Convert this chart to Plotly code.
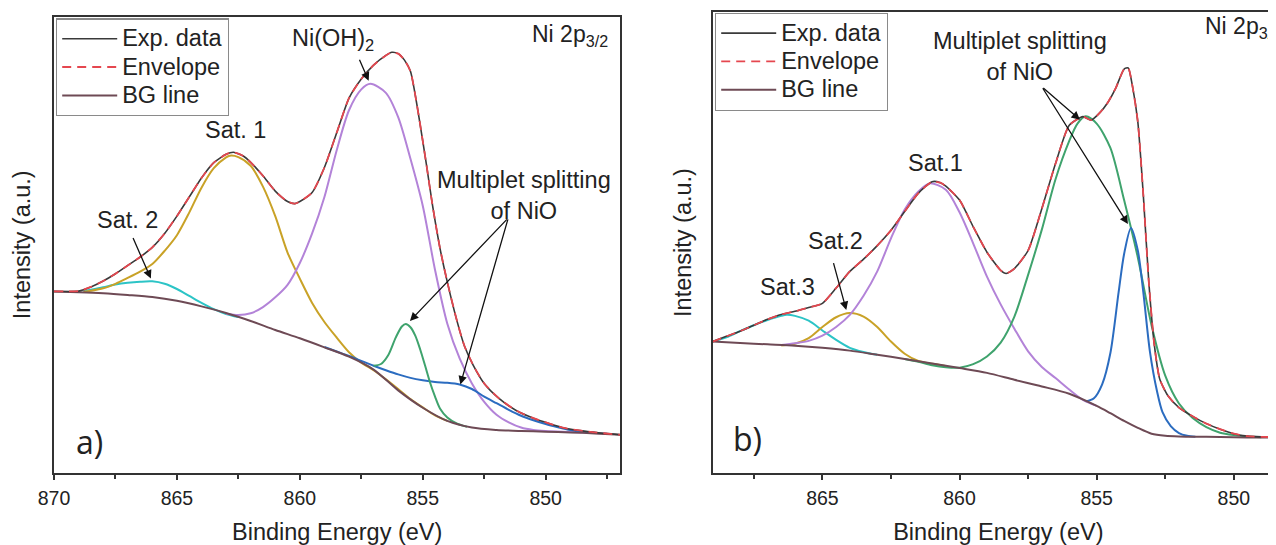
import plotly.graph_objects as go

# ---------------- Panel a) data (Binding energy eV, intensity a.u.) ----------------
E_a_exp = [870, 869.5, 869, 868.5, 868, 867.5, 867, 866.5, 866, 865.5, 865, 864.5, 864, 863.5,
           863, 862.7, 862.3, 862, 861.5, 861, 860.5, 860.2, 860, 859.5, 859, 858.5, 858, 857.5,
           857, 856.5, 856.26, 856, 855.75, 855.5, 855.2, 854.85, 854.6, 854.3, 854, 853.6, 853.3,
           852.95, 852.5, 851.9, 851.2, 850.5, 849.2, 848, 846.96]
I_a_exp = [52.3, 52.3, 52.4, 53.6, 55.3, 57.4, 59.8, 62.2, 65.0, 69.0, 74.0, 79.5, 85.0, 89.4,
           91.8, 92.4, 91.3, 89.5, 85.6, 81.2, 78.2, 77.6, 78.2, 80.8, 88.0, 98.0, 108.0, 113.5,
           117.5, 120.3, 121.2, 120.8, 119.0, 115.7, 104.5, 88.8, 77.0, 64.8, 55.0, 43.6, 36.5,
           31.1, 25.8, 21.5, 18.0, 15.8, 12.9, 11.7, 11.0]
I_a_env = I_a_exp  # fitted envelope coincides with the data

E_a_bg = [870, 869, 868, 867, 866, 865, 864, 863, 862, 861, 860, 859, 858, 857, 856, 855, 854,
          853, 852, 851, 850, 849, 848, 846.96]
I_a_bg = [52.3, 52.1, 51.8, 51.3, 50.7, 49.6, 48.0, 46.1, 43.8, 41.2, 38.8, 36.2, 33.5, 29.8,
          23.8, 18.8, 15.0, 13.1, 12.4, 12.1, 11.9, 11.7, 11.4, 11.0]

E_a_sat2 = [868.8, 868.5, 868, 867.5, 867, 866.5, 866, 865.5, 865, 864.5, 864, 863.5, 863, 862.5]
I_a_sat2 = [52.4, 52.8, 53.5, 54.3, 54.8, 55.1, 55.2, 54.5, 53.0, 51.0, 49.0, 47.2, 45.8, 44.9]

E_a_sat1 = [868.8, 868.5, 868, 867.5, 867, 866.5, 866, 865.5, 865, 864.5, 864, 863.5, 863, 862.85,
            862.5, 862, 861.5, 861, 860.5, 860, 859.5, 859, 858.5, 858, 857.5, 857, 856.5, 856,
            855.5, 855, 854.5, 854]
I_a_sat1 = [52.2, 52.5, 53.2, 54.5, 56.2, 58.0, 60.2, 64.0, 68.5, 75.0, 82.2, 87.8, 90.9, 91.4,
            91.0, 88.5, 82.5, 74.0, 63.5, 56.0, 49.0, 43.5, 39.0, 34.8, 31.8, 29.6, 27.0, 24.2,
            21.3, 18.9, 16.6, 15.0]

E_a_nioh = [863, 862.5, 862, 861.5, 861, 860.5, 860, 859.5, 859, 858.5, 858, 857.5, 857.13, 856.5,
            856, 855.5, 855, 854.5, 854, 853.5, 853, 852.5, 852, 851.5, 851, 850.5, 850, 849, 848,
            847.5]
I_a_nioh = [45.9, 45.5, 46.0, 47.8, 50.6, 54.2, 60.5, 69.0, 79.5, 93.0, 104.5, 110.5, 112.1, 109.5,
            102.5, 90.5, 77.0, 58.5, 43.0, 33.0, 25.8, 20.5, 16.8, 14.6, 13.1, 12.4, 12.1, 11.8,
            11.5, 11.3]

E_a_nio1 = [857.0, 856.7, 856.4, 856.1, 855.85, 855.69, 855.5, 855.3, 855.1, 854.9, 854.7, 854.5,
            854.3, 854.0, 853.6, 853.2]
I_a_nio1 = [30.9, 31.4, 34.0, 39.0, 42.2, 42.9, 42.0, 39.5, 35.5, 30.8, 26.0, 22.0, 18.6, 16.0,
            14.2, 13.3]

E_a_nio2 = [859, 858.5, 858, 857.5, 857, 856.5, 856, 855.5, 855, 854.5, 854, 853.5, 853, 852.5,
            852, 851.5, 851, 850.5, 850, 849.5, 849, 848.5, 848]
I_a_nio2 = [36.3, 35.0, 33.7, 32.3, 30.9, 29.6, 28.4, 27.4, 26.7, 26.2, 26.0, 25.5, 24.2, 22.0,
            20.1, 18.2, 16.5, 15.2, 14.1, 13.2, 12.4, 11.9, 11.6]

# ---------------- Panel b) data ----------------
E_b_exp = [869, 868.5, 868, 867.5, 867, 866.5, 866, 865.5, 865, 864.5, 864, 863.5, 863, 862.5, 862,
           861.5, 861, 860.7, 860.5, 860, 859.5, 859, 858.5, 858.3, 858, 857.5, 857, 856.5, 856,
           855.5, 855.2, 854.9, 854.6, 854.3, 854, 853.85, 853.7, 853.5, 853.3, 853.1, 852.9,
           852.7, 852.4, 852, 851.5, 851, 850.5, 850, 849.5, 849, 848.17]
I_b_exp = [37.8, 39.3, 40.8, 42.5, 44.2, 45.6, 46.5, 47.6, 48.8, 53.2, 58.0, 61.5, 65.4, 69.8, 75.2,
           80.5, 83.8, 83.5, 82.5, 78.5, 70.8, 63.5, 58.3, 57.4, 58.8, 64.0, 76.0, 89.0, 100.0,
           102.5, 101.5, 103.5, 106.5, 110.8, 116.2, 116.5, 111.5, 101.0, 80.0, 55.0, 37.0,
           27.0, 22.2, 18.8, 16.3, 14.2, 12.6, 11.3, 10.6, 10.4, 10.3]
I_b_env = I_b_exp

E_b_bg = [869, 868, 867, 866, 865, 864, 863, 862, 861, 860, 859, 858, 857, 856, 855, 854.5, 854,
          853.5, 853, 852.5, 852, 851, 850, 849, 848.17]
I_b_bg = [37.8, 37.4, 37.0, 36.6, 36.0, 35.2, 34.0, 32.8, 31.5, 30.2, 28.8, 26.8, 24.9, 22.8, 19.3,
          17.2, 15.0, 13.0, 11.3, 10.7, 10.5, 10.4, 10.3, 10.2, 10.2]

E_b_sat3 = [869, 868.5, 868, 867.5, 867, 866.5, 866.3, 866, 865.5, 865, 864.5, 864, 863.5, 863]
I_b_sat3 = [37.8, 39.0, 40.8, 42.5, 44.0, 45.2, 45.5, 45.2, 43.8, 41.0, 38.3, 36.0, 34.8, 34.0]

E_b_sat2 = [866.5, 866, 865.5, 865, 864.5, 864, 863.5, 863, 862.5, 862, 861.5, 861, 860.5]
I_b_sat2 = [36.7, 37.2, 38.8, 42.0, 44.8, 46.0, 45.0, 42.0, 37.8, 34.3, 32.2, 31.4, 30.8]

E_b_sat1 = [866.5, 866, 865.5, 865, 864.5, 864, 863.5, 863, 862.5, 862, 861.5, 861.09, 860.5, 860,
            859.5, 859, 858.5, 858, 857.5, 857, 856.5, 856, 855.5, 855]
I_b_sat1 = [36.8, 37.3, 38.0, 39.5, 42.0, 45.5, 51.0, 58.0, 67.5, 75.8, 81.0, 83.3, 81.5, 75.0,
            66.0, 56.5, 48.5, 41.5, 35.0, 30.5, 27.3, 24.0, 21.0, 19.3]

E_b_nio1 = [862, 861.5, 861, 860.5, 860, 859.5, 859, 858.5, 858, 857.5, 857, 856.5, 856, 855.7,
            855.4, 855, 854.5, 854, 853.5, 853, 852.5, 852, 851.5, 851, 850.5, 850, 849.5, 849]
I_b_nio1 = [32.8, 32.0, 31.0, 30.4, 30.3, 31.3, 33.5, 37.5, 45.0, 57.0, 70.0, 84.5, 95.5, 100.5,
            102.6, 100.5, 93.5, 78.5, 62.0, 42.5, 28.0, 20.0, 15.8, 13.2, 11.6, 10.9, 10.5, 10.3]

E_b_nio2 = [855.4, 855.1, 854.8, 854.5, 854.2, 854.0, 853.75, 853.5, 853.3, 853.06, 852.8, 852.6,
            852.3, 852.0, 851.7, 851.4]
I_b_nio2 = [20.6, 21.5, 25.5, 34.5, 52.0, 63.0, 70.5, 64.0, 52.0, 35.0, 23.5, 17.5, 13.5, 11.5,
            10.7, 10.4]

LEGEND_NAMES = ["Exp. data", "Envelope", "BG line"]
X_TICKS = [870, 865, 860, 855, 850]

# ---------------- styles ----------------
FONT = "Liberation Sans, Arial, sans-serif"
C_EXP = "#3a3a3a"
C_ENV = "#e5474f"
C_BG = "#6e4a55"
C_CYAN = "#2cc4c6"
C_YEL = "#c9a227"
C_PUR = "#b383d8"
C_GRN = "#3fa36d"
C_BLU = "#2b6cc0"
TXT_SIZE = 23.5
LEG_TXT = 23.5

W, H = 1276, 545
OFF = 8  # page offset of the plot div (default body margin)


def px_x(p):
    return (p - OFF) / W


def px_y(p):
    return 1 - (p - OFF) / H


fig = go.Figure()


def leg_name(s):
    return f"<span style='font-size:{LEG_TXT}px'>{s}</span>"


def comp(x, y, color, xa, ya):
    fig.add_trace(go.Scatter(x=x, y=y, mode="lines", line=dict(color=color, width=2, shape="spline", smoothing=0.8),
                             showlegend=False, xaxis=xa, yaxis=ya, hoverinfo="skip"))


def main(xe, ye, yenv, xbg, ybg, xa, ya, leg):
    fig.add_trace(go.Scatter(x=xbg, y=ybg, mode="lines", name=leg_name(LEGEND_NAMES[2]), legend=leg, legendrank=3,
                             line=dict(color=C_BG, width=2, shape="spline", smoothing=0.8), xaxis=xa, yaxis=ya))
    fig.add_trace(go.Scatter(x=xe, y=ye, mode="lines", name=leg_name(LEGEND_NAMES[0]), legend=leg, legendrank=1,
                             line=dict(color=C_EXP, width=1.6, shape="spline", smoothing=0.6), xaxis=xa, yaxis=ya))
    fig.add_trace(go.Scatter(x=xe, y=yenv, mode="lines", name=leg_name(LEGEND_NAMES[1]), legend=leg, legendrank=2,
                             line=dict(color=C_ENV, width=1.8, dash="9px,6px", shape="spline", smoothing=0.6),
                             xaxis=xa, yaxis=ya))


# panel a
comp(E_a_sat2, I_a_sat2, C_CYAN, "x", "y")
comp(E_a_sat1, I_a_sat1, C_YEL, "x", "y")
comp(E_a_nioh, I_a_nioh, C_PUR, "x", "y")
comp(E_a_nio2, I_a_nio2, C_BLU, "x", "y")
comp(E_a_nio1, I_a_nio1, C_GRN, "x", "y")
main(E_a_exp, I_a_exp, I_a_env, E_a_bg, I_a_bg, "x", "y", "legend")

# panel b
comp(E_b_sat3, I_b_sat3, C_CYAN, "x2", "y2")
comp(E_b_sat2, I_b_sat2, C_YEL, "x2", "y2")
comp(E_b_sat1, I_b_sat1, C_PUR, "x2", "y2")
comp(E_b_nio1, I_b_nio1, C_GRN, "x2", "y2")
comp(E_b_nio2, I_b_nio2, C_BLU, "x2", "y2")
main(E_b_exp, I_b_exp, I_b_env, E_b_bg, I_b_bg, "x2", "y2", "legend2")

xcommon = dict(showgrid=False, zeroline=False, linecolor="#333333", linewidth=2, automargin=False,
               tickfont=dict(family=FONT, size=19.5, color="#222"), ticks="outside", ticklen=5,
               tickwidth=1.5, tickcolor="#333333", ticklabelstandoff=2, tickvals=X_TICKS,
               mirror=True, showline=True,
               minor=dict(dtick=2.5, tick0=0, ticks="outside", ticklen=4, tickwidth=1.5, tickcolor="#333"),
               title_font=dict(family=FONT, size=TXT_SIZE, color="#222"))
ycommon = dict(showgrid=False, zeroline=False, linecolor="#333333", linewidth=2, automargin=False,
               showticklabels=False, ticks="", showline=True,
               title_font=dict(family=FONT, size=TXT_SIZE, color="#222"))

fig.update_layout(
    width=W, height=H, margin=dict(l=0, r=0, t=0, b=0),
    paper_bgcolor="white", plot_bgcolor="white",
    font=dict(family=FONT, color="#222"),
    xaxis=dict(domain=[px_x(54), px_x(620.4)], range=[870, 846.96], anchor="y",
               title=dict(text="Binding Energy (eV)", standoff=15), **xcommon),
    yaxis=dict(domain=[px_y(473), px_y(16.5)], range=[0, 131.5], mirror=True, anchor="x",
               title=dict(text="Intensity (a.u.)", standoff=15), **ycommon),
    xaxis2=dict(domain=[px_x(712.7), 1.0], range=[869.0, 848.17], anchor="y2",
                title=dict(text="Binding Energy (eV)", standoff=15), **xcommon),
    yaxis2=dict(domain=[px_y(473), px_y(12)], range=[0, 132.6], mirror=False, anchor="x2",
                title=dict(text="Intensity (a.u.)", standoff=12), **ycommon),
    legend=dict(x=px_x(56), y=px_y(18.3), xanchor="left", yanchor="top", bgcolor="white",
                bordercolor="#8a8a8a", borderwidth=1.2, font=dict(family=FONT, size=19.5, color="#222"),
                tracegroupgap=0, itemwidth=55, traceorder="normal"),
    legend2=dict(x=px_x(715), y=px_y(12.7), xanchor="left", yanchor="top", bgcolor="white",
                 bordercolor="#8a8a8a", borderwidth=1.2, font=dict(family=FONT, size=19.5, color="#222"),
                 tracegroupgap=0, itemwidth=55, traceorder="normal"),
)


def txt(x, y, text, xr, yr, xanchor="center", size=TXT_SIZE, family=FONT):
    fig.add_annotation(x=x, y=y, xref=xr, yref=yr, text=text, showarrow=False, xanchor=xanchor,
                       yanchor="middle", font=dict(family=family, size=size, color="#222"))


def arrow(x0, y0, x1, y1, xr, yr):
    fig.add_annotation(x=x1, y=y1, ax=x0, ay=y0, xref=xr, yref=yr, axref=xr, ayref=yr, text="",
                       showarrow=True, arrowhead=2, arrowsize=1.3, arrowwidth=1.3, arrowcolor="#111")


# panel a annotations
txt(858.65, 125.0, "Ni(OH)<sub>2</sub>", "x", "y")
arrow(857.6, 119.5, 857.2, 113.0, "x", "y")
txt(862.62, 98.9, "Sat. 1", "x", "y")
txt(867.0, 73.0, "Sat. 2", "x", "y")
arrow(866.81, 68.1, 866.06, 56.0, "x", "y")
txt(850.9, 79.9, "Multiplet splitting<br>of NiO", "x", "y")
arrow(851.52, 73.5, 855.52, 43.8, "x", "y")
arrow(851.52, 73.5, 853.47, 25.5, "x", "y")
txt(847.4, 126.0, "Ni 2p<sub>3/2</sub>", "x", "y", xanchor="right", size=23)
txt(868.56, 9.0, "a)", "x", "y", size=32, family="Open Sans, sans-serif")

# panel b annotations
txt(857.8, 119.9, "Multiplet splitting<br>of NiO", "x2", "y2")
arrow(857.0, 111.1, 855.61, 101.6, "x2", "y2")
arrow(857.0, 111.1, 853.86, 71.6, "x2", "y2")
txt(860.88, 89.1, "Sat.1", "x2", "y2")
txt(864.53, 66.8, "Sat.2", "x2", "y2")
arrow(864.61, 60.8, 864.13, 46.9, "x2", "y2")
txt(866.29, 53.6, "Sat.3", "x2", "y2")
txt(851.12, 128.0, "Ni 2p<sub>3/2</sub>", "x2", "y2", xanchor="left", size=23)
txt(867.73, 9.8, "b)", "x2", "y2", size=32, family="Open Sans, sans-serif")

fig.write_html("out.html")
